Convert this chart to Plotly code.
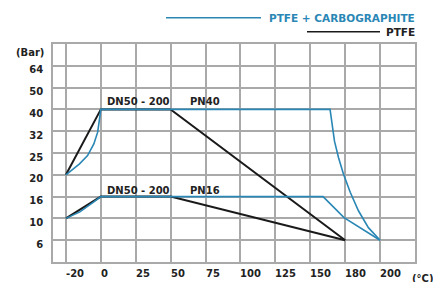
import numpy as np
import plotly.graph_objects as go

# Axis tick labels (equally spaced on the chart)
temp_ticks = [-20, 0, 25, 50, 75, 100, 125, 150, 180, 200]
bar_ticks = [6, 10, 16, 20, 25, 32, 40, 50, 64]

# PTFE (black)
ptfe_pn40_t = [-20, 0, 50, 180]
ptfe_pn40_p = [20, 40, 40, 6]
ptfe_pn16_t = [-20, 0, 50, 180]
ptfe_pn16_p = [10, 16, 16, 6]

# PTFE + CARBOGRAPHITE (blue)
carbo_pn40_t = [-20, -16.7, -12.2, -7.6, -4.0, -1.8, -0.8, 0,
                167, 168.6, 170.8, 174.3, 178.5, 182.9, 187.6, 193.3, 200]
carbo_pn40_p = [20, 21.1, 22.5, 24.4, 27.9, 31.7, 36, 40,
                40, 34.5, 28.8, 23.9, 20.2, 16.8, 12.1, 8.3, 6]
carbo_pn16_t = [-20, -12, -4.4, 0, 161, 179, 200]
carbo_pn16_p = [10, 11.8, 14.4, 16, 16, 10.2, 6]

BLUE = "#2a87b5"
BLACK = "#1a1a1a"
GRID = "#a9a9a9"
FONT = "DejaVu Sans"


def xs(t):
    return np.interp(t, temp_ticks, np.arange(len(temp_ticks)))


def ys(p):
    return np.interp(p, bar_ticks, np.arange(len(bar_ticks)))


fig = go.Figure()


def add(t, p, color, width):
    fig.add_trace(go.Scatter(x=xs(t), y=ys(p), mode="lines",
                             line=dict(color=color, width=width),
                             hoverinfo="skip", showlegend=False))


add(ptfe_pn40_t, ptfe_pn40_p, BLACK, 2)
add(ptfe_pn16_t, ptfe_pn16_p, BLACK, 2)
add(carbo_pn40_t, carbo_pn40_p, BLUE, 1.6)
add(carbo_pn16_t, carbo_pn16_p, BLUE, 1.6)

annotations = []
txt = dict(family=FONT, size=10, color="#222222")
# x tick labels, left-aligned at gridlines
for i, t in enumerate(temp_ticks):
    annotations.append(dict(x=i, xref="x", y=0, yref="paper", yshift=-11,
                            text=f"<b>{t}</b>", showarrow=False,
                            xanchor="left", yanchor="middle", xshift=-2,
                            font=txt))
annotations.append(dict(x=(410 - 53) / 362, xref="paper", y=(262 - 278) / 218, yref="paper",
                        text="<b>(°C)</b>", showarrow=False, xanchor="left",
                        yanchor="middle", font=txt))
annotations.append(dict(x=(46 - 53) / 362, xref="paper", y=(262 - 53) / 218, yref="paper",
                        text="<b>(Bar)</b>", showarrow=False, xanchor="right",
                        yanchor="middle", font=txt))
# Curve labels
for lbl, px, py in [("DN50 - 200", 105, 101.7), ("PN40", 188, 101.7),
                    ("DN50 - 200", 105, 190), ("PN16", 188, 190)]:
    annotations.append(dict(x=(px - 53) / 362, xref="paper", y=(262 - py) / 218, yref="paper",
                            text=f"<b>{lbl}</b>", showarrow=False, xanchor="left",
                            yanchor="middle", font=txt))
# Legend
annotations.append(dict(x=1, xref="paper", y=(262 - 17.7) / 218, yref="paper",
                        text="<b>PTFE + CARBOGRAPHITE</b>", showarrow=False,
                        xanchor="right", yanchor="middle", xshift=2,
                        font=dict(family=FONT, size=10.5, color=BLUE)))
annotations.append(dict(x=1, xref="paper", y=(262 - 31.7) / 218, yref="paper",
                        text="<b>PTFE</b>", showarrow=False,
                        xanchor="right", yanchor="middle", xshift=2,
                        font=dict(family=FONT, size=10.5, color="#222222")))

shapes = [
    dict(type="line", xref="paper", yref="paper", x0=(166 - 53) / 362, x1=(261 - 53) / 362,
         y0=(262 - 17.7) / 218, y1=(262 - 17.7) / 218, line=dict(color=BLUE, width=1.5)),
    dict(type="line", xref="paper", yref="paper", x0=(307 - 53) / 362, x1=(380 - 53) / 362,
         y0=(262 - 31.7) / 218, y1=(262 - 31.7) / 218, line=dict(color=BLACK, width=1.5)),
]

fig.update_layout(
    width=433, height=282,
    margin=dict(l=53, r=18, t=44, b=20, autoexpand=False),
    plot_bgcolor="white", paper_bgcolor="white",
    annotations=annotations, shapes=shapes,
    font=dict(family=FONT, size=10, color="#222222"),
    xaxis=dict(range=[-0.37, 10], tickvals=list(range(len(temp_ticks))),
               showticklabels=False, showgrid=True, gridcolor=GRID, gridwidth=1.5,
               showline=True, mirror=True, linecolor=GRID, linewidth=1.5,
               zeroline=False, fixedrange=True, automargin=False),
    yaxis=dict(range=[-1, 9], tickvals=list(range(len(bar_ticks))) + [9],
               ticktext=[f"<b>{b}</b>" for b in bar_ticks] + [""],
               ticklabelshift=4, ticklabelstandoff=6,
               showgrid=True, gridcolor=GRID, gridwidth=1.5,
               showline=True, mirror=True, linecolor=GRID, linewidth=1.5,
               zeroline=False, fixedrange=True, automargin=False,
               tickfont=dict(family=FONT, size=10, color="#222222")),
)

fig.write_html("out.html", config={"displayModeBar": False},
               post_script="document.body.style.margin='0';document.body.style.padding='0';")
